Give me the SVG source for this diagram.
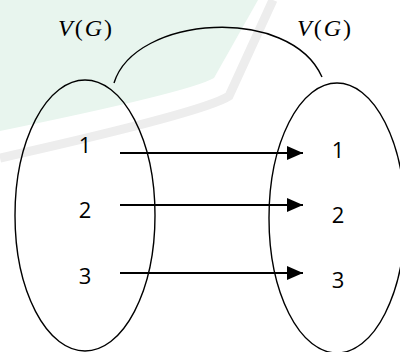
<svg xmlns="http://www.w3.org/2000/svg" width="400" height="352" viewBox="0 0 400 352">
<style>
.set{fill:none;stroke:#000;stroke-width:1.4}
.edge{fill:none;stroke:#000;stroke-width:2.2}
.num{font-family:"Open Sans","Liberation Sans",sans-serif;font-size:22px;fill:#000;text-anchor:middle}
.lab{font-family:"Liberation Serif","DejaVu Serif",serif;font-size:24px;fill:#000;letter-spacing:2px}
.it{font-style:italic}
</style>
<defs>
<marker id="ah" viewBox="0 0 16 14" refX="16" refY="7" markerWidth="16" markerHeight="14" markerUnits="userSpaceOnUse" orient="auto">
<path d="M0,0 L16,7 L0,14 Z" fill="#000"/>
</marker>
</defs>
<g id="background">
<rect width="400" height="352" fill="#fff"/>
<path d="M0,0 L258,0 L214,78 Q190,92 0,131 Z" fill="#e8f5ee"/>
<path d="M273,0 L229,96 Q205,112 0,158" fill="none" stroke="#ededed" stroke-width="9"/>
</g>
<g id="domain">
<ellipse class="set" cx="85" cy="215.5" rx="70" ry="135.5"/>
<text class="lab" x="58" y="36"><tspan class="it">V</tspan>(<tspan class="it">G</tspan>)</text>
</g>
<g id="codomain">
<ellipse class="set" cx="337" cy="218" rx="68" ry="135"/>
<text class="lab" x="297" y="36"><tspan class="it">V</tspan>(<tspan class="it">G</tspan>)</text>
</g>
<g id="d1"><text class="num" x="85" y="153">1</text></g>
<g id="d2"><text class="num" x="85" y="218">2</text></g>
<g id="d3"><text class="num" x="85" y="284">3</text></g>
<g id="c1"><text class="num" x="338" y="158">1</text></g>
<g id="c2"><text class="num" x="338" y="223">2</text></g>
<g id="c3"><text class="num" x="338" y="288">3</text></g>
<g id="connectors">
<path class="set" d="M114,83 C135,15 290,5 322,77"/>
<line class="edge" x1="120" y1="153" x2="303" y2="153" marker-end="url(#ah)"/>
<line class="edge" x1="120" y1="205" x2="303" y2="205" marker-end="url(#ah)"/>
<line class="edge" x1="120" y1="273" x2="303" y2="273" marker-end="url(#ah)"/>
</g>
</svg>
